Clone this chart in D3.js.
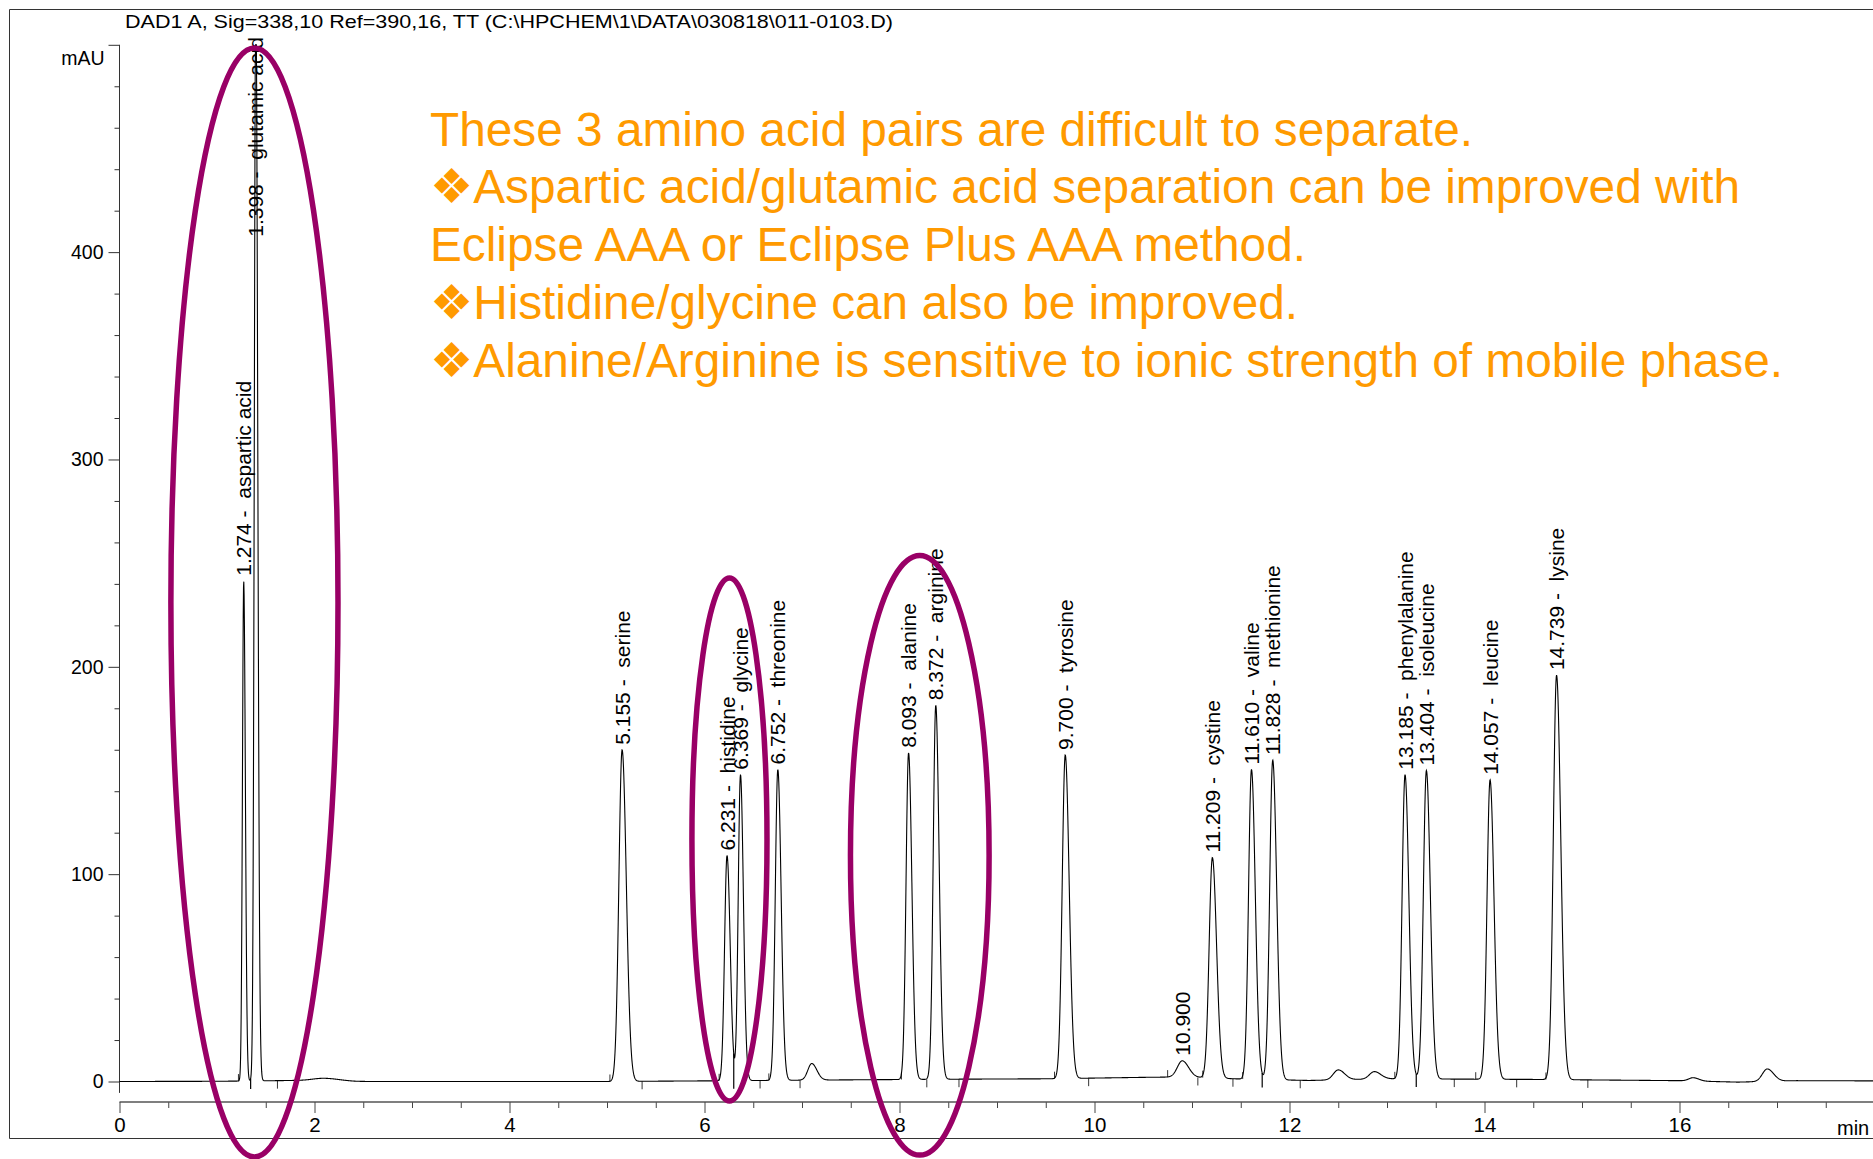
<!DOCTYPE html>
<html><head><meta charset="utf-8">
<script src="https://cdn.jsdelivr.net/npm/d3@7"></script>
<style>
html,body{margin:0;padding:0;background:#fff;overflow:hidden}
svg{display:block;font-family:"Liberation Sans",Arial,sans-serif}
</style></head><body>
<svg id="c" width="1873" height="1159"></svg>
<script>
// ---------------- data ----------------
const chartTitle = "DAD1 A, Sig=338,10 Ref=390,16, TT (C:\\HPCHEM\\1\\DATA\\030818\\011-0103.D)";
const yUnit = "mAU";
const xUnit = "min";
const xTickValues = [0, 2, 4, 6, 8, 10, 12, 14, 16];
const yTickValues = [0, 100, 200, 300, 400];

// labelled peaks: retention time (min), apex height (mAU), width (sigma, min)
const peakTimes   = [1.274, 1.398, 5.155, 6.231, 6.369, 6.752, 8.093, 8.372, 9.700, 10.900, 11.209, 11.610, 11.828, 13.185, 13.404, 14.057, 14.739];
const peakNames   = ["aspartic acid", "glutamic acid", "serine", "histidine", "glycine", "threonine", "alanine", "arginine", "tyrosine", "", "cystine", "valine", "methionine", "phenylalanine", "isoleucine", "leucine", "lysine"];
const peakHeights = [241.5, 530, 160, 109, 148, 150.5, 158.5, 181.5, 157.5, 10, 108, 150.5, 155, 148, 150, 145.5, 196];
const peakWidths  = [0.013, 0.015, 0.033, 0.025, 0.023, 0.026, 0.026, 0.026, 0.031, 0.05, 0.033, 0.030, 0.031, 0.030, 0.031, 0.031, 0.033];
// value (mAU) at which each peak label starts
const labelAt     = [241.5, 405, 160, 109, 148, 150.5, 158.5, 181.5, 157.5, 10, 108, 150.5, 155, 148, 150, 145.5, 196];

// small unlabelled peaks
const minorTimes   = [2.10, 7.10, 12.50, 12.87, 16.14, 16.90];
const minorHeights = [1.3, 8.0, 4.8, 3.6, 1.6, 6.0];
const minorWidths  = [0.12, 0.04, 0.05, 0.05, 0.045, 0.05];

// baseline drift
const baselineTimes  = [0, 1.0, 1.8, 2.4, 5.0, 6.0, 7.5, 8.5, 9.5, 10.5, 10.9, 11.5, 12.2, 13.0, 14.5, 16.0, 16.6, 17.2, 18.0];
const baselineValues = [0, 0.1, 0.5, 0, 0, 0.3, 0.8, 1.1, 1.3, 2.0, 2.2, 1.2, 0.5, 1.3, 1.0, 0.4, -0.3, 0.4, 0.3];

// integration event marks
const startMarks = [1.22, 5.03, 6.15, 6.66, 8.02, 9.59, 10.75, 11.11, 11.52, 13.08, 13.91, 14.63];
const endMarks   = [1.62, 5.36, 6.57, 6.98, 8.28, 8.61, 9.94, 11.06, 11.42, 12.11, 13.69, 14.33, 15.06];
// valley drop lines between fused peaks
const dropTimes  = [1.345, 6.30, 11.72, 13.30];

// highlighted pairs (centre time, centre mAU, half-width min, half-height mAU)
const ringTimes   = [1.384, 6.256, 8.208];
const ringValues  = [231, 116.7, 109.1];
const ringHalfW   = [0.857, 0.385, 0.711];
const ringHalfH   = [267.4, 126.1, 144.6];

const noteLines = [
  "These 3 amino acid pairs are difficult to separate.",
  "\u2756Aspartic acid/glutamic acid separation can be improved with",
  "Eclipse AAA or Eclipse Plus AAA method.",
  "\u2756Histidine/glycine can also be improved.",
  "\u2756Alanine/Arginine is sensitive to ionic strength of mobile phase."
];

// ---------------- layout ----------------
const W = 1873, H = 1159;
const X0 = 119.5, PX_PER_MIN = 97.5;
const Y0 = 1081.5, Y500 = 44.8;
const XAXIS_Y = 1102;
const noteX = 430, noteY0 = 145.5, noteDy = 57.8, noteSize = 47.5;
const noteLengths = [1043, 1310, 876, 868, 1353];
const orange = "#FF9A00", ringColor = "#990066";
const FONT = "Liberation Sans, Arial, sans-serif";

const svg = d3.select("#c");
const x = d3.scaleLinear().domain([0, 18]).range([X0, X0 + 18 * PX_PER_MIN]);
const y = d3.scaleLinear().domain([0, 500]).range([Y0, Y500]);
const base = d3.scaleLinear().domain(baselineTimes).range(baselineValues);

// frame
svg.append("path")
  .attr("d", `M${W} 9.5H9.5V1138.5H${W}`)
  .attr("fill", "none").attr("stroke", "#333").attr("stroke-width", 1);

// title
svg.append("text").attr("x", 125).attr("y", 28)
  .attr("font-size", 19).attr("textLength", 768).attr("lengthAdjust", "spacingAndGlyphs")
  .text(chartTitle);

// y axis
const yAxisG = svg.append("g").attr("transform", `translate(${X0},0)`);
yAxisG.append("line").attr("x1", 0).attr("x2", 0)
  .attr("y1", y(500)).attr("y2", y(-5.5)).attr("stroke", "#333");
const yMinor = d3.range(0, 501, 20).filter(v => v % 100 !== 0);
yAxisG.append("g").call(d3.axisLeft(y).tickValues(yMinor).tickSize(5).tickFormat(""))
  .call(g => g.select(".domain").remove())
  .call(g => g.selectAll("line").attr("stroke", "#333"));
yAxisG.append("g").call(d3.axisLeft(y).tickValues(yTickValues.concat([500])).tickSize(11).tickPadding(5)
    .tickFormat(v => v === 500 ? "" : v))
  .call(g => g.select(".domain").remove())
  .call(g => g.selectAll("line").attr("stroke", "#333"))
  .call(g => g.selectAll("text").attr("font-size", 19.5).attr("font-family", FONT).attr("fill", "#000"));
yAxisG.append("text").attr("x", -15).attr("y", y(500) + 20)
  .attr("text-anchor", "end").attr("font-size", 19.5).text(yUnit);

// x axis
const xAxisG = svg.append("g").attr("transform", `translate(0,${XAXIS_Y})`);
const xMinor = d3.range(0.5, 18.01, 0.5).filter(v => v % 2 !== 0);
xAxisG.append("g").call(d3.axisBottom(x).tickValues(xMinor).tickSize(6).tickFormat(""))
  .call(g => g.select(".domain").remove())
  .call(g => g.selectAll("line").attr("stroke", "#444"));
xAxisG.append("g").call(d3.axisBottom(x).tickValues(xTickValues.concat([18])).tickSize(11).tickPadding(4)
    .tickFormat(v => v === 18 ? "" : v))
  .call(g => g.select(".domain").attr("stroke", "#555").attr("stroke-width", 1.6).attr("d", `M${x(0)},0H${W}`))
  .call(g => g.selectAll("line").attr("stroke", "#444"))
  .call(g => g.selectAll("text").attr("font-size", 20.5).attr("font-family", FONT).attr("fill", "#000"));
xAxisG.append("text").attr("x", 1837).attr("y", 33)
  .attr("font-size", 20).text(xUnit);

// chromatogram trace
function shape(z) { return z < 0 ? Math.exp(-z * z / 2) : Math.exp(-(z / 1.3) * (z / 1.3) / 2); }
const allT = peakTimes.concat(minorTimes);
const allH = peakHeights.concat(minorHeights.map((h, i) => h + base(minorTimes[i])));
const allW = peakWidths.concat(minorWidths);
const amps = allH.map((h, i) => h - base(allT[i]));
function signal(t) {
  let v = base(t);
  for (let i = 0; i < allT.length; i++) {
    const z = (t - allT[i]) / allW[i];
    if (Math.abs(z) < 12) v += amps[i] * shape(z);
  }
  return v;
}
const samples = d3.range(0, 18.0001, 0.003).map(t => [t, signal(t)]);
svg.append("path").datum(samples)
  .attr("fill", "none").attr("stroke", "#000").attr("stroke-width", 1.1)
  .attr("d", d3.line().x(d => x(d[0])).y(d => y(Math.min(d[1], 500))));

// integration marks
svg.append("g").selectAll("line").data(startMarks).join("line")
  .attr("x1", d => x(d)).attr("x2", d => x(d))
  .attr("y1", d => y(base(d))).attr("y2", d => y(base(d)) - 7)
  .attr("stroke", "#000").attr("stroke-width", 0.8);
svg.append("g").selectAll("line").data(endMarks).join("line")
  .attr("x1", d => x(d)).attr("x2", d => x(d))
  .attr("y1", d => y(base(d))).attr("y2", d => y(base(d)) + 8)
  .attr("stroke", "#000").attr("stroke-width", 0.8);
svg.append("g").selectAll("line").data(dropTimes).join("line")
  .attr("x1", d => x(d)).attr("x2", d => x(d))
  .attr("y1", d => y(base(d)) + 8).attr("y2", d => y(signal(d)))
  .attr("stroke", "#000").attr("stroke-width", 1.2);

// peak labels
svg.append("g").selectAll("text").data(peakTimes).join("text")
  .attr("transform", (d, i) => `translate(${x(d)},${y(labelAt[i]) - 5}) rotate(-90)`)
  .attr("y", 7.5)
  .attr("font-size", 21)
  .style("white-space", "pre")
  .text((d, i) => peakNames[i] ? `${d.toFixed(3)} -  ${peakNames[i]}` : d.toFixed(3));

// ellipses
svg.append("g").selectAll("ellipse").data(ringTimes).join("ellipse")
  .attr("cx", d => x(d))
  .attr("cy", (d, i) => y(ringValues[i]))
  .attr("rx", (d, i) => x(d + ringHalfW[i]) - x(d))
  .attr("ry", (d, i) => y(ringValues[i] - ringHalfH[i]) - y(ringValues[i]))
  .attr("fill", "none").attr("stroke", ringColor).attr("stroke-width", 5.5);

// annotation text
svg.append("g").selectAll("text").data(noteLines).join("text")
  .attr("x", noteX).attr("y", (d, i) => noteY0 + i * noteDy)
  .attr("font-size", noteSize).attr("fill", orange)
  .attr("textLength", (d, i) => noteLengths[i]).attr("lengthAdjust", "spacingAndGlyphs")
  .style("white-space", "pre")
  .text(d => d);
</script>
</body></html>
